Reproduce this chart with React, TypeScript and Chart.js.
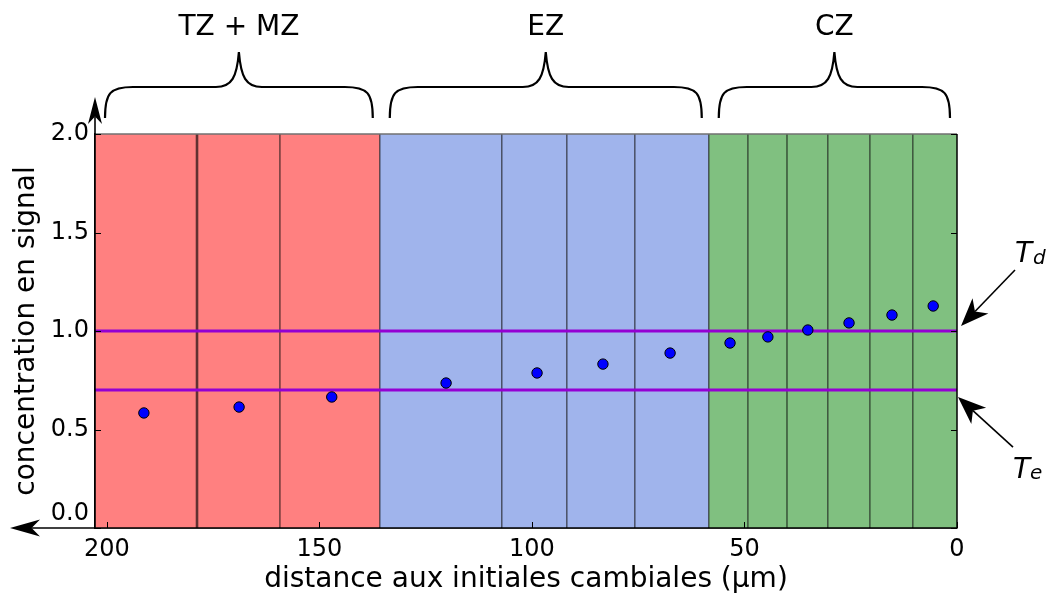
import React, { useEffect, useRef } from 'react';
import { Chart, registerables } from 'chart.js';

Chart.register(...registerables);

// ---- data ----
const xTicks = [0, 50, 100, 150, 200];
const yTicks = [0, 0.5, 1.0, 1.5, 2.0];
const xMax = 202.8;
const yMax = 2.0;
const distances = [191.3, 168.9, 147.1, 120.2, 98.8, 83.3, 67.5, 53.4, 44.5, 35.1, 25.4, 15.3, 5.6];
const concentrations = [0.584, 0.614, 0.665, 0.736, 0.787, 0.832, 0.888, 0.939, 0.97, 1.005, 1.041, 1.081, 1.127];
const cellBoundaries = [202.8, 178.8, 159.3, 135.8, 107.1, 91.8, 75.8, 58.4, 49.2, 40.0, 30.4, 20.5, 10.4, 0];
const zoneNames = ['TZ + MZ', 'EZ', 'CZ'];
const zoneStarts = [202.8, 135.8, 58.4];
const zoneEnds = [135.8, 58.4, 0];
const zoneColors = ['#ff8080', '#a0b4ec', '#80c080'];
const thresholdTd = 1.0;
const thresholdTe = 0.7;

const FONT = "'DejaVu Sans', sans-serif";

function zoneOf(v: number): number {
  for (let i = 0; i < zoneStarts.length; i++) {
    if (v <= zoneStarts[i] && v >= zoneEnds[i]) return i;
  }
  return 0;
}

function arrowHead(ctx: CanvasRenderingContext2D, tx: number, ty: number, fx: number, fy: number, len: number, hw: number) {
  const ang = Math.atan2(ty - fy, tx - fx);
  const c = Math.cos(ang), s = Math.sin(ang);
  const p = (a: number, b: number) => [tx - a * c - b * s, ty - a * s + b * c];
  const b1 = p(len, hw), b2 = p(len, -hw), n = p(len * 0.72, 0);
  ctx.beginPath();
  ctx.moveTo(tx, ty);
  ctx.lineTo(b1[0], b1[1]);
  ctx.lineTo(n[0], n[1]);
  ctx.lineTo(b2[0], b2[1]);
  ctx.closePath();
  ctx.fill();
  return n;
}

function arrow(ctx: CanvasRenderingContext2D, fx: number, fy: number, tx: number, ty: number, len: number, hw: number, lw: number) {
  ctx.save();
  ctx.fillStyle = '#000';
  ctx.strokeStyle = '#000';
  ctx.lineWidth = lw;
  const n = arrowHead(ctx, tx, ty, fx, fy, len, hw);
  ctx.beginPath();
  ctx.moveTo(fx, fy);
  ctx.lineTo(n[0], n[1]);
  ctx.stroke();
  ctx.restore();
}

function brace(ctx: CanvasRenderingContext2D, x0: number, x1: number, yB: number, yF: number, yT: number) {
  const xm = (x0 + x1) / 2;
  ctx.beginPath();
  ctx.moveTo(x0, yB);
  ctx.bezierCurveTo(x0, yF + 6, x0 + 5, yF, x0 + 28, yF);
  ctx.lineTo(xm - 23, yF);
  ctx.bezierCurveTo(xm - 7, yF, xm - 2, yF - 10, xm, yT);
  ctx.bezierCurveTo(xm + 2, yF - 10, xm + 7, yF, xm + 23, yF);
  ctx.lineTo(x1 - 28, yF);
  ctx.bezierCurveTo(x1 - 5, yF, x1, yF + 6, x1, yB);
  ctx.stroke();
}

const zonesPlugin = {
  id: 'zones',
  beforeDatasetsDraw(chart: any) {
    const { ctx, chartArea } = chart;
    const x = chart.scales.x;
    const { top, bottom } = chartArea;
    ctx.save();
    for (let i = 0; i < cellBoundaries.length - 1; i++) {
      const a = cellBoundaries[i], b = cellBoundaries[i + 1];
      const z = zoneOf((a + b) / 2);
      const xa = x.getPixelForValue(a), xb = x.getPixelForValue(b);
      ctx.fillStyle = zoneColors[z];
      ctx.fillRect(Math.min(xa, xb), top, Math.abs(xb - xa), bottom - top);
    }
    for (let i = 1; i < cellBoundaries.length - 1; i++) {
      const px = x.getPixelForValue(cellBoundaries[i]);
      ctx.strokeStyle = 'rgba(0,0,0,0.62)';
      ctx.lineWidth = i === 1 ? 2.6 : 1.4;
      ctx.beginPath();
      ctx.moveTo(px, top);
      ctx.lineTo(px, bottom);
      ctx.stroke();
    }
    ctx.restore();
  },
  afterDraw(chart: any) {
    const { ctx, chartArea } = chart;
    const x = chart.scales.x, y = chart.scales.y;
    const { left, right, top, bottom } = chartArea;
    ctx.save();
    ctx.strokeStyle = '#707070';
    ctx.lineWidth = 1.5;
    ctx.beginPath();
    ctx.moveTo(left, top);
    ctx.lineTo(right, top);
    ctx.stroke();
    ctx.strokeStyle = '#000';
    ctx.lineWidth = 1.5;
    ctx.beginPath();
    ctx.moveTo(right, top);
    ctx.lineTo(right, bottom);
    ctx.stroke();
    ctx.lineWidth = 1;
    for (const v of xTicks) {
      const px = Math.round(x.getPixelForValue(v)) + 0.5;
      ctx.beginPath();
      ctx.moveTo(px, bottom);
      ctx.lineTo(px, bottom - 6);
      ctx.stroke();
    }
    for (const v of yTicks) {
      const py = Math.round(y.getPixelForValue(v)) + 0.5;
      ctx.beginPath();
      ctx.moveTo(left, py);
      ctx.lineTo(left + 6, py);
      ctx.moveTo(right, py);
      ctx.lineTo(right - 6, py);
      ctx.stroke();
    }
    arrow(ctx, left, bottom, left, top - 37, 27, 7, 1.6);
    arrow(ctx, right, bottom, 10, bottom, 30, 8.5, 1.6);

    ctx.strokeStyle = '#000';
    ctx.lineWidth = 2.2;
    ctx.fillStyle = '#000';
    ctx.font = `28px ${FONT}`;
    ctx.textAlign = 'center';
    ctx.textBaseline = 'alphabetic';
    for (let i = 0; i < zoneNames.length; i++) {
      const xa = x.getPixelForValue(zoneStarts[i]) + 10;
      const xb = x.getPixelForValue(zoneEnds[i]) - 7;
      brace(ctx, xa, xb, 118, 87, 52);
      ctx.fillText(zoneNames[i], (xa + xb) / 2, 35);
    }

    const yTd = y.getPixelForValue(thresholdTd);
    const yTe = y.getPixelForValue(thresholdTe);
    arrow(ctx, right + 58, yTd - 61, right + 4, yTd - 5, 28, 11, 1.6);
    arrow(ctx, right + 56, yTe + 57, right + 1, yTe + 7, 28, 11, 1.6);
    ctx.textAlign = 'left';
    ctx.font = `italic 28px ${FONT}`;
    ctx.fillText('T', right + 58, yTd - 69);
    ctx.font = `italic 20px ${FONT}`;
    ctx.fillText('d', right + 76, yTd - 67);
    ctx.font = `italic 28px ${FONT}`;
    ctx.fillText('T', right + 56, yTe + 88);
    ctx.font = `italic 20px ${FONT}`;
    ctx.fillText('e', right + 73, yTe + 89);
    ctx.restore();
  },
};

export default function App() {
  const ref = useRef<HTMLCanvasElement | null>(null);
  useEffect(() => {
    if (!ref.current) return;
    const chart = new Chart(ref.current, {
      type: 'scatter',
      data: {
        datasets: [
          {
            data: distances.map((d, i) => ({ x: d, y: concentrations[i] })),
            backgroundColor: '#0000ff',
            borderColor: '#000000',
            borderWidth: 1,
            pointRadius: 5.2,
          },
          {
            data: [{ x: 0, y: thresholdTd }, { x: xMax, y: thresholdTd }],
            showLine: true,
            borderColor: '#9400d3',
            borderWidth: 3,
            pointRadius: 0,
          },
          {
            data: [{ x: 0, y: thresholdTe }, { x: xMax, y: thresholdTe }],
            showLine: true,
            borderColor: '#9400d3',
            borderWidth: 3,
            pointRadius: 0,
          },
        ],
      },
      options: {
        animation: false,
        responsive: false,
        devicePixelRatio: 1,
        layout: { padding: { top: 134, right: 90, left: 0, bottom: 0 } },
        plugins: { legend: { display: false }, tooltip: { enabled: false } },
        scales: {
          x: {
            type: 'linear',
            reverse: true,
            min: 0,
            max: xMax,
            afterFit: (s: any) => { s.height = 65; },
            afterBuildTicks: (s: any) => { s.ticks = xTicks.map((v) => ({ value: v })); },
            grid: { display: false, drawTicks: false },
            border: { display: true, color: '#000', width: 1.6 },
            ticks: {
              font: { family: FONT, size: 24 },
              color: '#000',
              padding: 7,
              maxRotation: 0,
              autoSkip: false,
              callback: (v: any) => String(v),
            },
            title: {
              display: true,
              text: 'distance aux initiales cambiales (µm)',
              font: { family: FONT, size: 28 },
              color: '#000',
              padding: { top: 0, bottom: -4 },
            },
          },
          y: {
            type: 'linear',
            min: 0,
            max: yMax,
            afterFit: (s: any) => { s.width = 95; },
            afterBuildTicks: (s: any) => { s.ticks = yTicks.map((v) => ({ value: v })); },
            grid: { display: false, drawTicks: false },
            border: { display: true, color: '#000', width: 1.6 },
            ticks: {
              font: { family: FONT, size: 24 },
              color: '#000',
              padding: 6,
              autoSkip: false,
              callback: (v: any) => (v === 0 ? ['0.0', ''] : Number(v).toFixed(1)),
            },
            title: {
              display: true,
              text: 'concentration en signal',
              font: { family: FONT, size: 28 },
              color: '#000',
              padding: { top: 10, bottom: 0 },
            },
          },
        },
      },
      plugins: [zonesPlugin],
    } as any);
    return () => chart.destroy();
  }, []);
  return (
    <div style={{ position: 'absolute', left: 0, top: 0, width: 1047, height: 593, background: '#fff' }}>
      <canvas ref={ref} width={1047} height={593} style={{ display: 'block' }} />
    </div>
  );
}
